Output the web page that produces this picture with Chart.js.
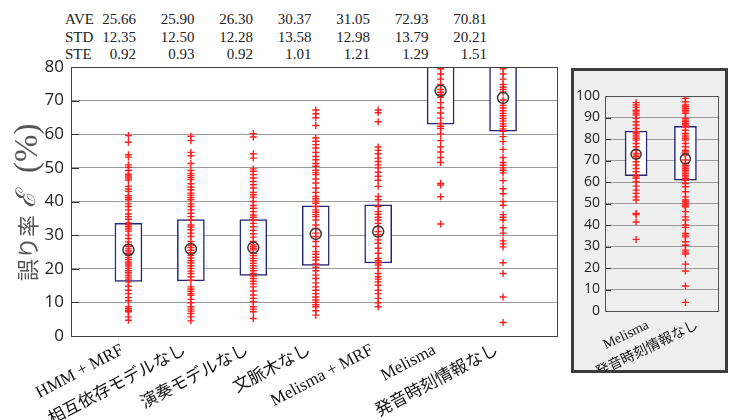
<!DOCTYPE html>
<html><head><meta charset="utf-8">
<script src="https://cdn.jsdelivr.net/npm/chart.js@4"></script>
<style>
html,body{margin:0;padding:0;background:#fff;width:729px;height:420px;overflow:hidden;}
#main{position:absolute;left:0;top:0;width:565px;height:420px;}
#side{position:absolute;left:571px;top:68px;width:151px;height:299px;border:3px solid #3c3c3c;background:#efefef;}
#stats{position:absolute;left:0;top:11px;font-family:'Liberation Serif','DejaVu Serif',serif;font-size:15px;color:#222;}
.row{position:relative;height:17.5px;line-height:17.5px;width:560px;}
.lab{position:absolute;left:65px;top:0;}
.vals{position:absolute;left:77.5px;top:0;display:flex;}
.v{width:58.5px;text-align:right;}
</style></head>
<body>
<div id="stats"></div>
<div id="main"><canvas id="c1"></canvas></div>
<div id="side"><canvas id="c2"></canvas></div>
<script>
const categories = ['HMM + MRF','相互依存モデルなし','演奏モデルなし','文脈木なし','Melisma + MRF','Melisma','発音時刻情報なし'];
const aveValues = [25.66, 25.90, 26.30, 30.37, 31.05, 72.93, 70.81];
const stdValues = [12.35, 12.50, 12.28, 13.58, 12.98, 13.79, 20.21];
const steValues = [0.92, 0.93, 0.92, 1.01, 1.21, 1.29, 1.51];
const boxQ1 = [16.2, 16.4, 18.0, 21.0, 21.7, 63.0, 60.9];
const boxQ3 = [33.5, 34.6, 34.6, 38.7, 39.0, 83.7, 85.9];

const pts1 = [59.6, 57.6, 53.9, 53.2, 50.9, 50.2, 49.2, 48.1, 47.6, 47.0, 46.4, 44.5, 43.7, 43.0, 41.7, 41.1, 40.5, 39.3, 38.5, 37.5, 36.3, 35.5, 34.7, 33.6, 33.1, 32.5, 31.8, 31.2, 30.0, 29.0, 28.0, 27.2, 26.6, 25.9, 25.3, 24.6, 24.0, 23.3, 22.7, 22.0, 21.4, 20.8, 20.1, 19.4, 18.8, 18.1, 17.5, 16.9, 16.1, 14.8, 13.6, 12.6, 11.4, 10.5, 8.7, 8.1, 7.6, 7.2, 5.7, 4.7];
const pts2 = [59.4, 58.1, 54.6, 53.6, 51.3, 49.2, 48.3, 47.7, 47.1, 46.5, 45.3, 44.3, 43.5, 42.5, 41.9, 41.2, 40.5, 39.3, 38.5, 37.5, 36.5, 35.5, 34.5, 33.0, 32.4, 31.6, 30.6, 29.6, 28.1, 27.0, 26.3, 25.5, 24.8, 24.0, 23.2, 22.4, 21.7, 20.9, 20.1, 19.3, 18.6, 17.6, 16.6, 14.6, 14.0, 13.3, 12.6, 12.1, 10.9, 9.9, 8.7, 8.0, 7.4, 6.7, 5.7, 4.5];
const pts3 = [60.2, 59.2, 54.2, 52.9, 49.7, 49.0, 48.0, 47.0, 46.0, 45.0, 44.0, 42.7, 42.0, 41.3, 40.0, 38.8, 38.0, 37.0, 36.0, 35.3, 34.5, 33.5, 32.5, 31.4, 30.4, 29.4, 28.1, 27.1, 26.6, 26.1, 25.6, 24.6, 23.9, 23.1, 22.4, 21.6, 20.9, 20.1, 19.4, 18.6, 17.9, 17.1, 16.3, 15.5, 14.6, 13.4, 12.2, 11.2, 10.2, 8.7, 8.0, 7.2, 5.2];
const pts4 = [67.2, 66.1, 64.9, 62.6, 58.9, 57.9, 56.9, 55.9, 54.6, 53.4, 52.4, 51.3, 50.5, 49.3, 48.6, 48.0, 46.7, 45.5, 44.0, 42.7, 41.5, 40.8, 40.1, 39.5, 38.5, 37.5, 36.8, 36.1, 35.5, 34.5, 33.0, 32.0, 30.6, 29.6, 28.1, 26.6, 25.1, 24.3, 23.4, 22.6, 21.4, 20.4, 19.4, 18.1, 17.1, 15.8, 14.6, 13.6, 12.6, 11.6, 10.7, 10.0, 9.3, 8.7, 7.5, 6.2];
const pts5 = [67.2, 66.4, 63.7, 56.2, 55.2, 54.2, 52.9, 51.9, 50.9, 50.0, 48.7, 47.5, 46.3, 44.5, 41.5, 40.5, 38.5, 37.0, 36.2, 35.3, 34.5, 33.5, 32.5, 31.1, 30.1, 28.6, 27.6, 26.1, 24.6, 23.1, 22.4, 21.8, 21.1, 20.1, 18.6, 17.6, 16.9, 16.1, 15.1, 13.6, 12.6, 11.2, 9.9, 8.7];
const pts6 = [96.9, 95.8, 94.7, 93.4, 92.6, 91.8, 91.1, 89.6, 88.0, 86.5, 84.9, 83.4, 82.6, 81.8, 81.0, 80.2, 79.5, 77.9, 76.4, 74.8, 73.3, 72.5, 71.8, 71.0, 69.4, 67.9, 66.3, 64.8, 63.2, 62.4, 61.7, 60.1, 58.1, 56.2, 54.7, 53.1, 51.6, 45.4, 44.9, 41.4, 33.3];
const pts7 = [100.0, 98.9, 97.3, 95.8, 95.0, 94.2, 93.4, 92.6, 91.9, 89.6, 88.8, 88.0, 87.2, 86.5, 85.7, 84.1, 82.6, 81.8, 81.0, 80.2, 79.5, 77.9, 76.4, 74.8, 74.0, 73.3, 72.5, 70.2, 68.6, 67.8, 67.0, 66.2, 65.5, 64.7, 63.9, 63.1, 62.4, 61.6, 60.9, 59.3, 57.8, 55.5, 53.1, 51.6, 50.8, 50.0, 49.3, 48.5, 46.2, 43.8, 42.3, 40.0, 38.9, 36.1, 35.3, 34.5, 32.2, 30.6, 28.3, 27.4, 26.5, 21.8, 18.6, 11.6, 4.0];
const pointSeries = [pts1, pts2, pts3, pts4, pts5, pts6, pts7];

const yTitleParts = ['誤り率', 'ℰ', '(%)'];

// stats table
const statRows = [['AVE', aveValues], ['STD', stdValues], ['STE', steValues]];
const statsEl = document.getElementById('stats');
statRows.forEach(([lab, arr]) => {
  const row = document.createElement('div'); row.className = 'row';
  const l = document.createElement('span'); l.className = 'lab'; l.textContent = lab; row.appendChild(l);
  const vals = document.createElement('div'); vals.className = 'vals';
  arr.forEach(v => { const s = document.createElement('span'); s.className = 'v'; s.textContent = v.toFixed(2); vals.appendChild(s); });
  row.appendChild(vals); statsEl.appendChild(row);
});

const serifFont = "'Liberation Serif','DejaVu Serif','Noto Sans CJK JP'";
const RED = '#ff1f1f', BOX = '#25257a', MEAN = '#3a3a3a';

const frameTicks = {
  id: 'frameTicks',
  beforeDatasetsDraw(chart, args, o) {
    const {ctx, chartArea: a} = chart; const ys = chart.scales.y;
    ctx.save(); ctx.strokeStyle = o.tickColor; ctx.lineWidth = 1;
    ys.ticks.forEach(t => { const p = Math.round(ys.getPixelForValue(t.value)) + 0.5;
      ctx.beginPath(); ctx.moveTo(a.left, p); ctx.lineTo(a.left + o.tickLen, p); ctx.stroke(); });
    ctx.restore();
  },
  afterDraw(chart, args, o) {
    const {ctx, chartArea: a} = chart;
    ctx.save(); ctx.strokeStyle = o.color; ctx.lineWidth = 1;
    ctx.strokeRect(Math.round(a.left) + 0.5, Math.round(a.top) + 0.5, Math.round(a.right - a.left) - 1, Math.round(a.bottom - a.top));
    ctx.restore();
    if (o.title) {
      // vertical axis title, read bottom to top, in mixed fonts
      const fonts = ['22px "Noto Sans CJK JP"', 'italic 27px "DejaVu Serif"', '33px "Liberation Serif"'];
      const gaps = [0, 7, 19];
      ctx.save();
      ctx.fillStyle = '#555';
      ctx.translate(a.left - 43, a.bottom - 55);
      ctx.rotate(-Math.PI / 2);
      ctx.textAlign = 'left'; ctx.textBaseline = 'middle';
      let pos = 0;
      yTitleParts.forEach((t, i) => {
        ctx.font = fonts[i]; pos += gaps[i];
        ctx.fillText(t, pos, 0);
        pos += ctx.measureText(t).width;
      });
      ctx.restore();
    }
  }
};

function makeChart(canvasId, idx, cfg) {
  return new Chart(document.getElementById(canvasId), {
    type: 'bar',
    data: { datasets: [
      { type: 'scatter', order: 0, data: idx.map(i => ({x: i + 1, y: aveValues[i]})),
        pointStyle: 'circle', pointRadius: cfg.meanR, pointBorderColor: MEAN, pointBackgroundColor: 'rgba(0,0,0,0)', pointBorderWidth: 1.5 },
      { type: 'scatter', order: 1, data: idx.flatMap(i => pointSeries[i].map(v => ({x: i + 1, y: v}))),
        pointStyle: 'cross', pointRadius: 3.5, pointBorderColor: RED, pointBackgroundColor: RED, pointBorderWidth: 1.4 },
      { type: 'bar', order: 2, data: idx.map(i => ({x: i + 1, y: [boxQ1[i], boxQ3[i]]})),
        backgroundColor: '#ffffff', borderColor: BOX, borderWidth: 1.5, borderSkipped: false, barThickness: cfg.barW }
    ]},
    options: {
      responsive: true, maintainAspectRatio: false, animation: false,
      layout: { padding: cfg.padding },
      plugins: { legend: {display: false}, tooltip: {enabled: false},
        frameTicks: { color: cfg.frameColor, tickColor: '#333', tickLen: cfg.tickLen, title: cfg.title } },
      scales: {
        x: { type: 'linear', min: cfg.xmin, max: cfg.xmax, offset: false,
          afterBuildTicks: ax => { ax.ticks = idx.map(i => ({value: i + 1})); },
          afterFit: ax => { ax.height = cfg.xH; },
          grid: {display: false, drawTicks: false}, border: {display: false},
          ticks: { autoSkip: false, minRotation: cfg.rot, maxRotation: cfg.rot, padding: cfg.xPad, labelOffset: cfg.labelOffset, color: '#111',
            font: {family: serifFont, size: cfg.xFont}, callback: v => categories[Math.round(v) - 1] } },
        y: { type: 'linear', min: 0, max: cfg.ymax,
          afterFit: ax => { ax.width = cfg.yW; },
          grid: {color: '#9a9a9a', drawTicks: false}, border: {display: false},
          ticks: { stepSize: 10, padding: cfg.yPad, color: '#222', font: {family: "'Open Sans','Noto Sans'", size: cfg.yFont} } }
      }
    },
    plugins: [frameTicks]
  });
}

makeChart('c1', [0,1,2,3,4,5,6], {
  meanR: 5.5, barW: 27, padding: {left: 10, top: 67, right: 5, bottom: 0},
  frameColor: '#444', tickLen: 8, xmin: 0.08, xmax: 7.88, xH: 84, xPad: 4, xFont: 17, rot: 28, labelOffset: -6,
  ymax: 80, yW: 61, yPad: 7, yFont: 17, title: true
});
makeChart('c2', [5,6], {
  meanR: 5, barW: 22, padding: {left: 0, top: 25, right: 6, bottom: 0},
  frameColor: '#555', tickLen: 6, xmin: 5.37, xmax: 7.67, xH: 59, xPad: 6, xFont: 14, rot: 26, labelOffset: 12,
  ymax: 100, yW: 31, yPad: 5, yFont: 14, title: false
});
</script>
</body></html>
